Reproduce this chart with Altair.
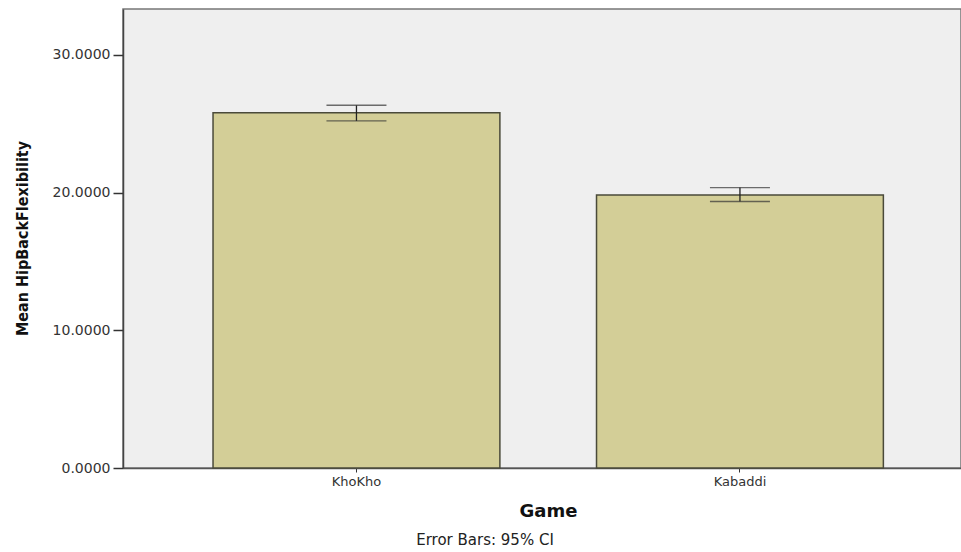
import altair as alt
import pandas as pd

games = ["KhoKho", "Kabaddi"]
means = [25.80, 19.83]
ci_low = [25.20, 19.35]
ci_high = [26.34, 20.36]

df = pd.DataFrame({"Game": games, "mean": means, "lo": ci_low, "hi": ci_high})

xscale = alt.Scale(domain=games, paddingInner=0.252, paddingOuter=0.2186, align=0.537)
yscale = alt.Scale(domain=[0, 33.33], nice=False, zero=True)

x = alt.X("Game:N", scale=xscale, sort=games,
          axis=alt.Axis(title="Game", labelAngle=0, labelFontSize=13, labelFont="DejaVu Sans",
                        labelColor="#333333", tickSize=4, tickColor="#333333",
                        domainColor="#555555", domainWidth=1.5, labelPadding=3,
                        titleFont="DejaVu Sans", titleFontSize=18, titleFontWeight="bold",
                        titleColor="#111111", titlePadding=14, titleX=425))

bars = alt.Chart(df).mark_bar(fill="#D3CE97", stroke="#4a4a3a", strokeWidth=1.5).encode(
    x=x,
    y=alt.Y("mean:Q", scale=yscale,
            axis=alt.Axis(title="Mean HipBackFlexibility", values=[0, 10, 20, 30], format=".4f",
                          labelFontSize=14, labelFont="DejaVu Sans", labelColor="#333333",
                          tickSize=10, tickColor="#333333", tickWidth=1.5, domainColor="#444444",
                          domainWidth=1.5, grid=False, labelPadding=3,
                          titleFont="DejaVu Sans Condensed", titleFontSize=16,
                          titleFontWeight="bold", titleColor="#111111",
                          titleAngle=270, titleX=-101, titleY=229, titleAlign="center",
                          titleBaseline="middle")),
)

rules = alt.Chart(df).mark_rule(color="#222222", strokeWidth=1.3).encode(
    x=alt.X("Game:N", scale=xscale, sort=games),
    y=alt.Y("lo:Q", scale=yscale),
    y2="hi:Q",
)
caps_hi = alt.Chart(df).mark_tick(color="#333333", orient="horizontal", size=60, thickness=1.3).encode(
    x=alt.X("Game:N", scale=xscale, sort=games),
    y=alt.Y("hi:Q", scale=yscale),
)
caps_lo = alt.Chart(df).mark_tick(color="#333333", orient="horizontal", size=60, thickness=1.3).encode(
    x=alt.X("Game:N", scale=xscale, sort=games),
    y=alt.Y("lo:Q", scale=yscale),
)

chart = alt.layer(bars, rules, caps_hi, caps_lo).properties(
    width=838, height=459,
    autosize=alt.AutoSizeParams(type="none"),
    padding={"left": 123, "top": 9, "right": 0, "bottom": 84},
    title=alt.TitleParams("Error Bars: 95% CI", orient="bottom", anchor="middle",
                          font="DejaVu Sans", fontSize=15, fontWeight="normal",
                          color="#222222", offset=13, dx=-57),
).configure_view(
    fill="#EFEFEF", stroke="#777777", strokeWidth=1.5
)

chart.save("out.html", embed_options={"renderer": "svg", "actions": False})
